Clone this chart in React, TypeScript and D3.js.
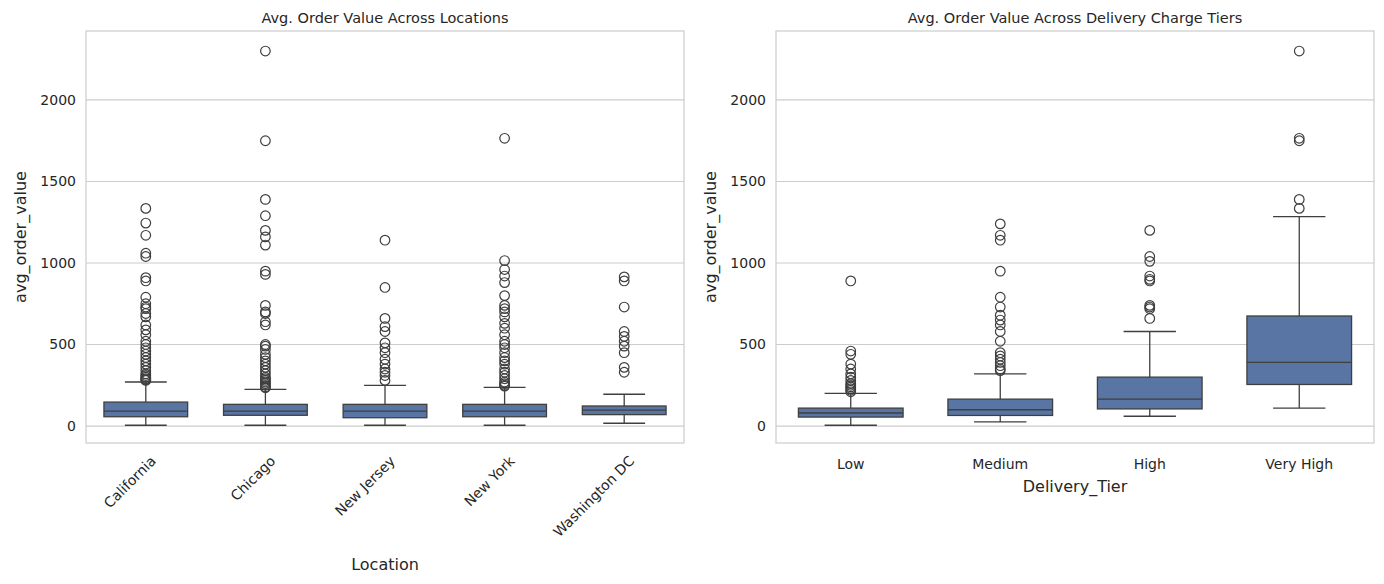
import * as d3 from 'd3';

interface BoxStat {
  name: string;
  lo: number;
  q1: number;
  med: number;
  q3: number;
  hi: number;
  out: number[];
}

const locations: BoxStat[] = [
  { name: 'California', lo: 5, q1: 57, med: 92, q3: 147, hi: 270,
    out: [1335, 1245, 1170, 1060, 1040, 910, 890, 790, 750, 730, 720, 690, 670, 620, 590, 560, 520, 500, 480, 460, 440, 420, 400, 380, 360, 340, 320, 310, 300, 290, 285, 280] },
  { name: 'Chicago', lo: 5, q1: 66, med: 92, q3: 133, hi: 225,
    out: [2300, 1750, 1390, 1290, 1200, 1160, 1110, 950, 930, 740, 700, 690, 640, 620, 500, 490, 470, 440, 420, 400, 380, 360, 340, 320, 300, 290, 280, 270, 260, 250, 240, 235] },
  { name: 'New Jersey', lo: 5, q1: 51, med: 92, q3: 133, hi: 250,
    out: [1140, 850, 660, 610, 580, 510, 480, 450, 410, 380, 350, 330, 310, 280] },
  { name: 'New York', lo: 5, q1: 57, med: 92, q3: 133, hi: 237,
    out: [1765, 1015, 960, 920, 880, 800, 740, 720, 700, 670, 630, 600, 560, 520, 500, 480, 450, 420, 400, 380, 350, 330, 310, 290, 270, 260, 250, 245] },
  { name: 'Washington DC', lo: 17, q1: 70, med: 98, q3: 123, hi: 195,
    out: [915, 890, 730, 580, 550, 520, 490, 450, 360, 330] },
];

const tiers: BoxStat[] = [
  { name: 'Low', lo: 5, q1: 55, med: 80, q3: 110, hi: 200,
    out: [890, 460, 440, 380, 350, 320, 300, 280, 260, 250, 240, 230, 220, 210] },
  { name: 'Medium', lo: 25, q1: 65, med: 100, q3: 165, hi: 320,
    out: [1240, 1170, 1140, 950, 790, 730, 680, 650, 620, 580, 520, 450, 430, 410, 390, 370, 350, 340] },
  { name: 'High', lo: 60, q1: 105, med: 165, q3: 300, hi: 580,
    out: [1200, 1040, 1010, 920, 900, 890, 740, 730, 720, 660] },
  { name: 'Very High', lo: 110, q1: 255, med: 390, q3: 675, hi: 1285,
    out: [2300, 1765, 1750, 1390, 1335] },
];

const yTicks = [0, 500, 1000, 1500, 2000];
const FONT = 'DejaVu Sans, sans-serif';
const BOX = '#5975a4';
const LINE = '#3f3f3f';

function Panel({ data, x0, title, xLabel, rotate }: { data: BoxStat[]; x0: number; title: string; xLabel: string; rotate: boolean }) {
  const w = 598;
  const top = 31;
  const bottom = 443;
  const x = d3.scaleBand<string>().domain(data.map((d) => d.name)).range([x0, x0 + w]).paddingInner(0.3).paddingOuter(0.15);
  const y = d3.scaleLinear().domain([-104, 2423]).range([bottom, top]);
  const bw = x.bandwidth();
  return (
    <g fontFamily={FONT}>
      <rect x={x0} y={top} width={w} height={bottom - top} fill="white" stroke="#cccccc" strokeWidth={1.2} />
      {yTicks.map((t) => (
        <g key={t}>
          <line x1={x0} x2={x0 + w} y1={y(t)} y2={y(t)} stroke="#cccccc" strokeWidth={1.2} />
          <text x={x0 - 10} y={y(t)} dy="0.35em" textAnchor="end" fontSize={14} fill="#262626">{t}</text>
        </g>
      ))}
      {data.map((d) => {
        const cx = x(d.name)! + bw / 2;
        return (
          <g key={d.name}>
            <line x1={cx} x2={cx} y1={y(d.q3)} y2={y(d.hi)} stroke={LINE} strokeWidth={1.3} />
            <line x1={cx} x2={cx} y1={y(d.q1)} y2={y(d.lo)} stroke={LINE} strokeWidth={1.3} />
            <line x1={cx - bw / 4} x2={cx + bw / 4} y1={y(d.hi)} y2={y(d.hi)} stroke={LINE} strokeWidth={1.3} />
            <line x1={cx - bw / 4} x2={cx + bw / 4} y1={y(d.lo)} y2={y(d.lo)} stroke={LINE} strokeWidth={1.3} />
            <rect x={cx - bw / 2} y={y(d.q3)} width={bw} height={y(d.q1) - y(d.q3)} fill={BOX} stroke={LINE} strokeWidth={1.3} />
            <line x1={cx - bw / 2} x2={cx + bw / 2} y1={y(d.med)} y2={y(d.med)} stroke={LINE} strokeWidth={1.3} />
            {d.out.map((o, i) => (
              <circle key={i} cx={cx} cy={y(o)} r={4.8} fill="none" stroke={LINE} strokeWidth={1.2} />
            ))}
            {rotate ? (
              <text transform={`translate(${cx + 4},${bottom + 12}) rotate(-45)`} textAnchor="end" dy="0.7em" fontSize={14} fill="#262626">{d.name}</text>
            ) : (
              <text x={cx} y={bottom + 26} textAnchor="middle" fontSize={14} fill="#262626">{d.name}</text>
            )}
          </g>
        );
      })}
      <text x={x0 + w / 2} y={top - 8} textAnchor="middle" fontSize={14.5} fill="#262626">{title}</text>
      <text transform={`translate(${x0 - 60},${(top + bottom) / 2}) rotate(-90)`} textAnchor="middle" fontSize={16} fill="#262626">avg_order_value</text>
      <text x={x0 + w / 2} y={rotate ? 570 : 492} textAnchor="middle" fontSize={16} fill="#262626">{xLabel}</text>
    </g>
  );
}

export default function App() {
  return (
    <svg width={1384} height={584} style={{ display: 'block', position: 'absolute', left: 0, top: 0 }}>
      <rect width={1384} height={584} fill="white" />
      <Panel data={locations} x0={86} title="Avg. Order Value Across Locations" xLabel="Location" rotate={true} />
      <Panel data={tiers} x0={776} title="Avg. Order Value Across Delivery Charge Tiers" xLabel="Delivery_Tier" rotate={false} />
    </svg>
  );
}
